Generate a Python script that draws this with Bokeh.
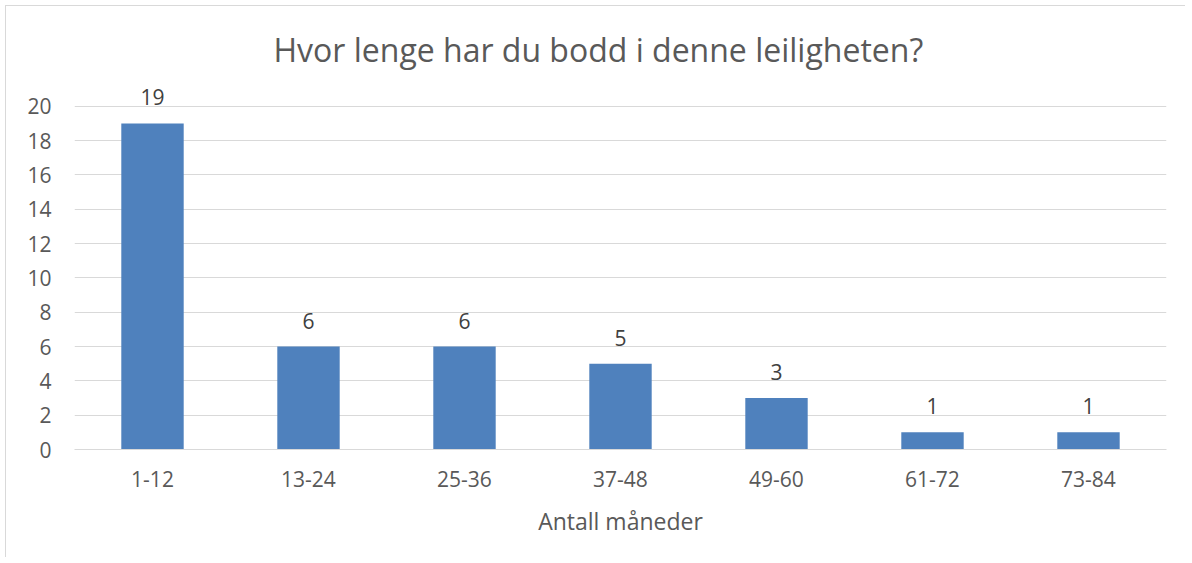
from bokeh.plotting import figure
from bokeh.models import ColumnDataSource, LabelSet, FixedTicker
from bokeh.core.properties import value
from bokeh.embed import file_html
from bokeh.resources import INLINE

categories = ["1-12", "13-24", "25-36", "37-48", "49-60", "61-72", "73-84"]
counts = [19, 6, 6, 5, 3, 1, 1]
y_ticks = [0, 2, 4, 6, 8, 10, 12, 14, 16, 18, 20]

FONT = "Open Sans"
TXT = "#595959"

src = ColumnDataSource(dict(cat=categories, val=counts, lbl=[str(v) for v in counts]))

p = figure(x_range=categories, y_range=(0, 21.5), width=1180, height=552,
           output_backend="svg", toolbar_location=None,
           min_border_left=68, min_border_right=20, min_border_top=74, min_border_bottom=109)
p.styles = {"border-left": "1px solid #d9d9d9", "border-top": "1px solid #d9d9d9",
            "margin-left": "5px", "margin-top": "5px"}

p.vbar(x="cat", top="val", width=0.4, source=src, fill_color="#4F81BD", line_color=None)
p.add_layout(LabelSet(x="cat", y="val", text="lbl", source=src, text_align="center",
                      text_baseline="bottom", y_offset=18, text_font=value(FONT),
                      text_font_size="21px", text_color="#404040"))

p.title.text = "Hvor lenge har du bodd i denne leiligheten?"
p.title.align = "left"
p.title.offset = 199
p.title.text_font = FONT
p.title.text_font_size = "32px"
p.title.text_font_style = "normal"
p.title.text_color = TXT
p.title.standoff = 20

p.outline_line_color = None
p.xgrid.grid_line_color = None
p.ygrid.grid_line_color = "#d9d9d9"
p.ygrid.grid_line_width = 1

p.yaxis.ticker = FixedTicker(ticks=y_ticks)
p.yaxis.axis_line_color = None
p.yaxis.major_tick_line_color = None
p.yaxis.minor_tick_line_color = None
p.yaxis.major_label_standoff = 17
p.yaxis.major_label_text_font = FONT
p.yaxis.major_label_text_font_size = "21px"
p.yaxis.major_label_text_color = TXT

p.xaxis.axis_line_color = "#d9d9d9"
p.xaxis.major_tick_line_color = None
p.xaxis.minor_tick_line_color = None
p.xaxis.major_label_standoff = 15
p.xaxis.major_label_text_font = FONT
p.xaxis.major_label_text_font_size = "21px"
p.xaxis.major_label_text_color = TXT
p.xaxis.axis_label = "Antall måneder"
p.xaxis.axis_label_text_font = FONT
p.xaxis.axis_label_text_font_size = "23px"
p.xaxis.axis_label_text_font_style = "normal"
p.xaxis.axis_label_text_color = TXT
p.xaxis.axis_label_standoff = 15

p.x_range.range_padding = 0

open("out.html", "w").write(file_html(p, INLINE))
